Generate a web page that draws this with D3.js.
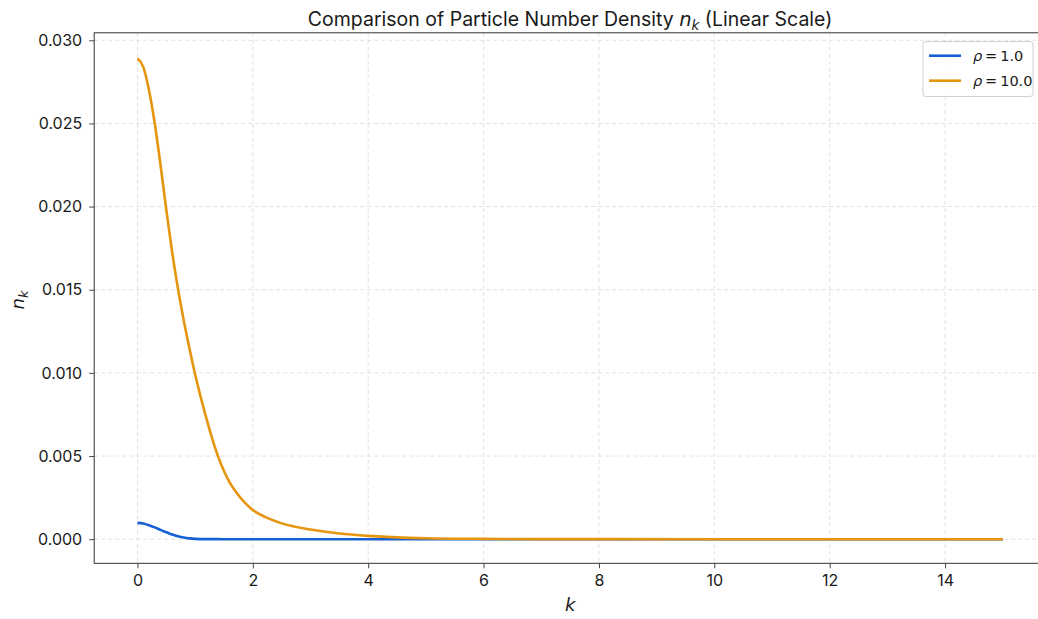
<!doctype html>
<html>
<head>
<meta charset="utf-8">
<title>Particle number density</title>
<script src="https://d3js.org/d3.v7.min.js"></script>
<style>
  body { margin: 0; background: #fff; }
  svg { display: block; font-family: Inter, "Open Sans", sans-serif; }
  .grid line { stroke: #d9d9d9; stroke-dasharray: 4,3; stroke-width: 0.8; }
  .tick text { font-family: Inter, "Open Sans", sans-serif; font-size: 16px; fill: #1a1a1a; }
  .math { font-family: "DejaVu Sans", sans-serif; font-style: italic; }
</style>
</head>
<body>
<div id="chart"></div>
<script>
const kLow = [0, 0.1, 0.2, 0.3, 0.4, 0.5, 0.6, 0.7, 0.8, 0.9, 1.0, 1.2, 1.5, 2, 4, 8, 15];
const rho1 = [0.00098, 0.00094, 0.00084, 0.00071, 0.00056, 0.00042, 0.00028, 0.00018,
              0.00010, 0.00005, 0.00002, 0.000004, 0, 0, 0, 0, 0];

const kHigh = [0, 0.1, 0.2, 0.3, 0.4, 0.5, 0.6, 0.7, 0.8, 0.9, 1.0, 1.1, 1.2, 1.3, 1.4,
               1.5, 1.6, 1.7, 1.8, 1.9, 2.0, 2.25, 2.5, 3.0, 3.5, 4.0, 4.5, 5, 6, 7, 8, 10, 15];
const rho10 = [0.0289, 0.0284, 0.0270, 0.0250, 0.0225, 0.0198, 0.0173, 0.0151, 0.0132,
               0.0115, 0.0099, 0.0085, 0.0072, 0.0060, 0.00495, 0.0041, 0.0034, 0.00288,
               0.00243, 0.00206, 0.00175, 0.00128, 0.00095, 0.00058, 0.00034, 0.0002,
               0.00011, 0.00006, 0.00002, 0.000006, 0.000002, 0, 0];

const xTicks = [0, 2, 4, 6, 8, 10, 12, 14];
const yTicks = [0, 0.005, 0.010, 0.015, 0.020, 0.025, 0.030];

const series = [
  { label: "1.0", k: kLow, v: rho1, color: "#1660d6" },
  { label: "10.0", k: kHigh, v: rho10, color: "#e6950e" }
];

const W = 1038, H = 619;
const mLeft = 94.2, mRight = 1046, mTop = 32.8, mBottom = 563.3;

const svg = d3.select("#chart").append("svg")
  .attr("width", W).attr("height", H);

const x = d3.scaleLinear().domain([-0.75, 15.75]).range([mLeft, mRight]);
const y = d3.scaleLinear().domain([-0.00145, 0.03045]).range([mBottom, mTop]);

// grid
svg.append("g").attr("class", "grid")
  .selectAll("line").data(xTicks).join("line")
  .attr("x1", d => x(d)).attr("x2", d => x(d))
  .attr("y1", mTop).attr("y2", mBottom);
svg.append("g").attr("class", "grid")
  .selectAll("line").data(yTicks).join("line")
  .attr("x1", mLeft).attr("x2", mRight)
  .attr("y1", d => y(d)).attr("y2", d => y(d));

// lines
const line = d3.line().curve(d3.curveMonotoneX);
series.forEach(s => {
  svg.append("path")
    .attr("d", line(s.k.map((k, i) => [x(k), y(s.v[i])])))
    .attr("fill", "none")
    .attr("stroke", s.color)
    .attr("stroke-width", 2.6)
    .attr("stroke-linejoin", "round");
});

// axes
const xAxis = svg.append("g")
  .attr("transform", `translate(0,${mBottom})`)
  .call(d3.axisBottom(x).tickValues(xTicks).tickSize(5).tickPadding(6).tickFormat(d3.format("d")));
const yAxis = svg.append("g")
  .attr("transform", `translate(${mLeft},0)`)
  .call(d3.axisLeft(y).tickValues(yTicks).tickSize(5).tickPadding(7).tickFormat(d3.format(".3f")));
[xAxis, yAxis].forEach(g => {
  g.select(".domain").remove();
  g.selectAll(".tick line").attr("stroke", "#333").attr("stroke-width", 0.9);
});

// frame
svg.append("rect")
  .attr("x", mLeft).attr("y", mTop)
  .attr("width", mRight - mLeft).attr("height", mBottom - mTop)
  .attr("fill", "none").attr("stroke", "#333").attr("stroke-width", 1);

// title
const title = svg.append("text")
  .attr("x", (mLeft + mRight) / 2).attr("y", 26)
  .attr("text-anchor", "middle")
  .attr("font-size", 19.5).attr("fill", "#1a1a1a");
title.append("tspan").text("Comparison of Particle Number Density ");
title.append("tspan").attr("class", "math").text("n");
title.append("tspan").attr("class", "math").attr("font-size", 13.5).attr("dy", 4).text("k");
title.append("tspan").attr("dy", -4).text(" (Linear Scale)");

// axis labels
svg.append("text")
  .attr("x", (mLeft + mRight) / 2).attr("y", 611)
  .attr("text-anchor", "middle").attr("font-size", 18).attr("fill", "#1a1a1a")
  .attr("class", "math").text("k");

const yl = svg.append("text")
  .attr("transform", "translate(24,300) rotate(-90)")
  .attr("text-anchor", "middle").attr("font-size", 18).attr("fill", "#1a1a1a")
  .attr("class", "math");
yl.append("tspan").text("n");
yl.append("tspan").attr("font-size", 13).attr("dy", 4).text("k");

// legend
const lg = svg.append("g");
lg.append("rect")
  .attr("x", 923).attr("y", 41.5).attr("width", 110).attr("height", 55)
  .attr("rx", 3).attr("fill", "#fff").attr("fill-opacity", 0.8)
  .attr("stroke", "#d0d0d0").attr("stroke-width", 1);
series.forEach((s, i) => {
  const yy = 55.7 + i * 25;
  lg.append("line")
    .attr("x1", 929).attr("x2", 961).attr("y1", yy).attr("y2", yy)
    .attr("stroke", s.color).attr("stroke-width", 2.6);
  const t = lg.append("text")
    .attr("x", 973).attr("y", yy + 5)
    .attr("font-size", 14.5).attr("fill", "#1a1a1a");
  t.append("tspan").attr("class", "math").text("ρ");
  t.append("tspan").attr("font-family", "'DejaVu Sans', sans-serif").text("\u2009=\u2009" + s.label);
});
</script>
</body>
</html>
